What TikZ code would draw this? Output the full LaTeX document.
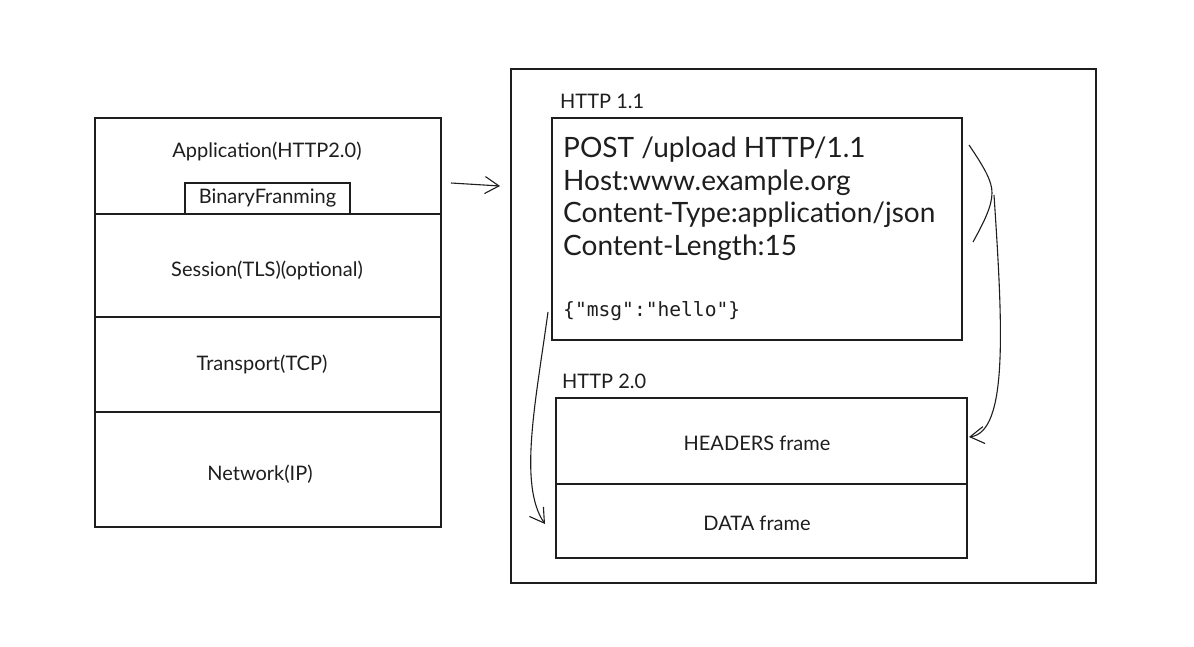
\documentclass[tikz,border=0pt]{standalone}
\usepackage{fontspec}
\setmainfont{Lato}
\newfontfamily\monof{DejaVu Sans Mono}
\usetikzlibrary{arrows.meta}
\definecolor{ink}{HTML}{1E1E1E}
\tikzset{
  box/.style={draw=ink, line width=1.2pt, inner sep=0pt, rectangle},
  lbl/.style={text=ink, inner sep=0pt, font=\fontsize{20}{24}\selectfont},
  big/.style={text=ink, inner sep=0pt, anchor=base west, font=\fontsize{28}{33}\selectfont},
  arr/.style={draw=ink, line width=1.1pt, -{Straight Barb[length=14pt,width=17pt,line width=1.1pt]}},
  sk/.style={draw=ink, line width=1.1pt}
}
\begin{document}
\begin{tikzpicture}[x=1pt,y=-1pt]
\useasboundingbox[fill=white] (0,0) rectangle (1194,647);
% left stack
\node[box, minimum width=346pt, minimum height=96pt] (app) at (268,166) {};
\node[box, minimum width=346pt, minimum height=103pt] (session) at (268,265.5) {};
\node[box, minimum width=346pt, minimum height=95pt] (transport) at (268,364.5) {};
\node[box, minimum width=346pt, minimum height=115pt] (network) at (268,469.5) {};
\node[lbl] (applbl) at (267,151) {Application(HTTP2.0)};
\node[box, lbl, draw=ink, inner sep=0pt, minimum width=165pt, minimum height=31pt] (binary) at (267.5,198.5) {BinaryFranming};
\node[lbl] (seslbl) at (267,270) {Session(TLS)(optional)};
\node[lbl] (tcplbl) at (262,364) {Transport(TCP)};
\node[lbl] (iplbl) at (260,474) {Network(IP)};
% right outer
\node[box, minimum width=585pt, minimum height=514pt] (outer) at (803.5,326) {};
\node[lbl, anchor=west] (h11lbl) at (560,101) {HTTP 1.1};
\node[box, minimum width=410pt, minimum height=222pt] (h11) at (757,229) {};
\node[big] (l1) at (563,158) {POST /upload HTTP/1.1};
\node[big] (l2) at (563,191) {Host:www.example.org};
\node[big] (l3) at (563,223) {Content-Type:application/json};
\node[big] (l4) at (563,255) {Content-Length:15};
\node[text=ink, inner sep=0pt, anchor=base west, font=\monof\fontsize{19.6}{22}\selectfont] (msg) at (563,316) {\{"msg":"hello"\}};
\node[lbl, anchor=west] (h2lbl) at (562,381) {HTTP 2.0};
\node[box, minimum width=411pt, minimum height=86pt] (headers) at (761.5,441) {};
\node[box, minimum width=411pt, minimum height=74pt] (data) at (761.5,521) {};
\node[lbl] (hdrlbl) at (757,443) {HEADERS frame};
\node[lbl] (datlbl) at (757,523) {DATA frame};
% connectors
\coordinate (a1s) at (451,183);
\coordinate (a1e) at (500,186);
\draw[arr] (a1s) -- (a1e);
\coordinate (br1) at (969,145);
\coordinate (br2) at (992,193);
\coordinate (br3) at (973,242);
\draw[sk] (br1) .. controls (986,170) and (992,182) .. (br2) .. controls (992,206) and (984,222) .. (br3);
\coordinate (ra) at (994,195);
\coordinate (rb) at (969,437);
\draw[arr] (ra) .. controls (1003,330) and (1008,432) .. (rb);
\coordinate (la) at (548,312);
\coordinate (lb) at (545,524);
\draw[arr] (la) .. controls (536,400) and (518,485) .. (lb);
\end{tikzpicture}
\end{document}
